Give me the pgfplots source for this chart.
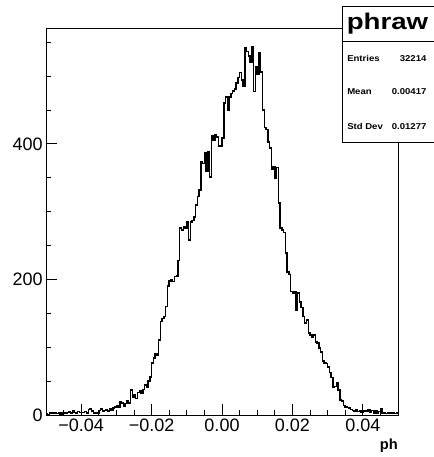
\documentclass[border=0pt]{standalone}
\usepackage{fontspec}
\setmainfont{Liberation Sans}
\usepackage{graphicx}
\usepackage{pgfplots}
\pgfplotsset{compat=1.18}
\begin{document}
\begin{tikzpicture}
\useasboundingbox (0,0) rectangle (324.75pt,342.75pt);
\begin{axis}[
  at={(34.5pt,31.5pt)}, anchor=south west,
  width=264pt, height=290.25pt, scale only axis,
  xmin=-0.05, xmax=0.05, ymin=0, ymax=571,
  scaled ticks=false,
  xtick={-0.04,-0.02,0,0.02,0.04},
  xticklabels={−0.04,−0.02,0.00,0.02,0.04},
  ytick={0,200,400}, yticklabels={0,200,400},
  minor xtick={-0.045,-0.035,-0.03,-0.025,-0.015,-0.01,-0.005,0.005,0.01,0.015,0.025,0.03,0.035,0.045},
  minor ytick={50,100,150,250,300,350,450,500,550},
  tick align=inside, xtick pos=bottom, ytick pos=left,
  major tick length=8pt, minor tick length=4pt,
  tick style={black, line width=0.6pt},
  axis line style={line width=0.7pt},
  ticklabel style={font=\fontsize{13.5}{14}\selectfont},
  xticklabel style={inner sep=0pt, yshift=-3pt},
  yticklabel style={inner sep=0pt, xshift=-2.25pt},
  xlabel={\textbf{ph}},
  xlabel style={at={(axis description cs:1,0)}, anchor=base east, yshift=-25.5pt, inner sep=0pt, font=\fontsize{11}{12}\selectfont},
]
\addplot[const plot mark left, black, line width=1.1pt, mark=none] coordinates {
(-0.0500,2)(-0.0495,1)(-0.0490,3)(-0.0485,2)(-0.0480,4)(-0.0475,3)(-0.0470,2)(-0.0465,3)(-0.0460,1)(-0.0455,4)
(-0.0450,3)(-0.0445,2)(-0.0440,4)(-0.0435,5)(-0.0430,3)(-0.0425,6)(-0.0420,4)(-0.0415,3)(-0.0410,5)(-0.0405,4)
(-0.0400,4)(-0.0395,4)(-0.0390,5)(-0.0385,3)(-0.0380,8)(-0.0375,9)(-0.0370,6)(-0.0365,3)(-0.0360,4)(-0.0355,3)
(-0.0350,7)(-0.0345,9)(-0.0340,6)(-0.0335,7)(-0.0330,8)(-0.0325,6)(-0.0320,9)(-0.0315,7)(-0.0310,10)(-0.0305,12)
(-0.0300,14)(-0.0295,11)(-0.0290,19)(-0.0285,18)(-0.0280,13)(-0.0275,17)(-0.0270,21)(-0.0265,18)(-0.0260,37)(-0.0255,26)
(-0.0250,30)(-0.0245,24)(-0.0240,33)(-0.0235,36)(-0.0230,32)(-0.0225,38)(-0.0220,44)(-0.0215,41)(-0.0210,50)(-0.0205,56)
(-0.0200,77)(-0.0195,84)(-0.0190,90)(-0.0185,88)(-0.0180,111)(-0.0175,138)(-0.0170,142)(-0.0165,145)(-0.0160,160)(-0.0155,190)
(-0.0150,198)(-0.0145,200)(-0.0140,197)(-0.0135,204)(-0.0130,205)(-0.0125,228)(-0.0120,276)(-0.0115,273)(-0.0110,278)(-0.0105,276)
(-0.0100,285)(-0.0095,258)(-0.0090,285)(-0.0085,287)(-0.0080,292)(-0.0075,310)(-0.0070,322)(-0.0065,332)(-0.0060,373)(-0.0055,371)
(-0.0050,387)(-0.0045,359)(-0.0040,388)(-0.0035,351)(-0.0030,412)(-0.0025,405)(-0.0020,413)(-0.0015,410)(-0.0010,397)(-0.0005,396)
(0.0000,409)(0.0005,460)(0.0010,469)(0.0015,450)(0.0020,469)(0.0025,474)(0.0030,478)(0.0035,481)(0.0040,490)(0.0045,498)
(0.0050,505)(0.0055,494)(0.0060,485)(0.0065,542)(0.0070,536)(0.0075,530)(0.0080,520)(0.0085,543)(0.0090,477)(0.0095,514)
(0.0100,502)(0.0105,534)(0.0110,506)(0.0115,450)(0.0120,424)(0.0125,421)(0.0130,403)(0.0135,394)(0.0140,362)(0.0145,366)
(0.0150,350)(0.0155,365)(0.0160,313)(0.0165,276)(0.0170,273)(0.0175,269)(0.0180,239)(0.0185,211)(0.0190,207)(0.0195,182)
(0.0200,180)(0.0205,182)(0.0210,155)(0.0215,180)(0.0220,167)(0.0225,159)(0.0230,145)(0.0235,136)(0.0240,140)(0.0245,121)
(0.0250,118)(0.0255,114)(0.0260,118)(0.0265,108)(0.0270,106)(0.0275,99)(0.0280,93)(0.0285,80)(0.0290,77)(0.0295,76)
(0.0300,71)(0.0305,63)(0.0310,55)(0.0315,41)(0.0320,42)(0.0325,47)(0.0330,37)(0.0335,22)(0.0340,21)(0.0345,14)
(0.0350,12)(0.0355,11)(0.0360,10)(0.0365,8)(0.0370,7)(0.0375,6)(0.0380,8)(0.0385,5)(0.0390,7)(0.0395,4)
(0.0400,6)(0.0405,6)(0.0410,5)(0.0415,8)(0.0420,4)(0.0425,7)(0.0430,3)(0.0435,6)(0.0440,2)(0.0445,5)
(0.0450,9)(0.0455,3)(0.0460,4)(0.0465,2)(0.0470,4)(0.0475,3)(0.0480,2)(0.0485,3)(0.0490,2)(0.0495,3)
(0.0500,3)
};
\end{axis}
% statistics box
\fill[white] (256.5pt,236.25pt) rectangle (330pt,338.25pt);
\draw[line width=0.7pt] (330pt,338.25pt) -- (256.5pt,338.25pt) -- (256.5pt,236.25pt) -- (330pt,236.25pt);
\draw[line width=0.7pt] (256.5pt,312pt) -- (330pt,312pt);
\node[anchor=base, inner sep=0pt, font=\fontsize{17}{19}\selectfont\bfseries] at (290.6pt,320.5pt) {\scalebox{1.22}[1]{phraw}};
\begin{scope}[every node/.style={inner sep=0pt, font=\fontsize{6.4}{7.5}\selectfont\bfseries}]
\node[anchor=base west] at (260.25pt,296.5pt) {\scalebox{1.12}[1]{Entries}};
\node[anchor=base east] at (320pt,296.5pt) {\scalebox{1.12}[1]{32214}};
\node[anchor=base west] at (260.25pt,271.5pt) {\scalebox{1.12}[1]{Mean}};
\node[anchor=base east] at (320pt,271.5pt) {\scalebox{1.12}[1]{0.00417}};
\node[anchor=base west] at (260.25pt,245.75pt) {\scalebox{1.12}[1]{Std Dev}};
\node[anchor=base east] at (320pt,245.75pt) {\scalebox{1.12}[1]{0.01277}};
\end{scope}
\end{tikzpicture}
\end{document}
